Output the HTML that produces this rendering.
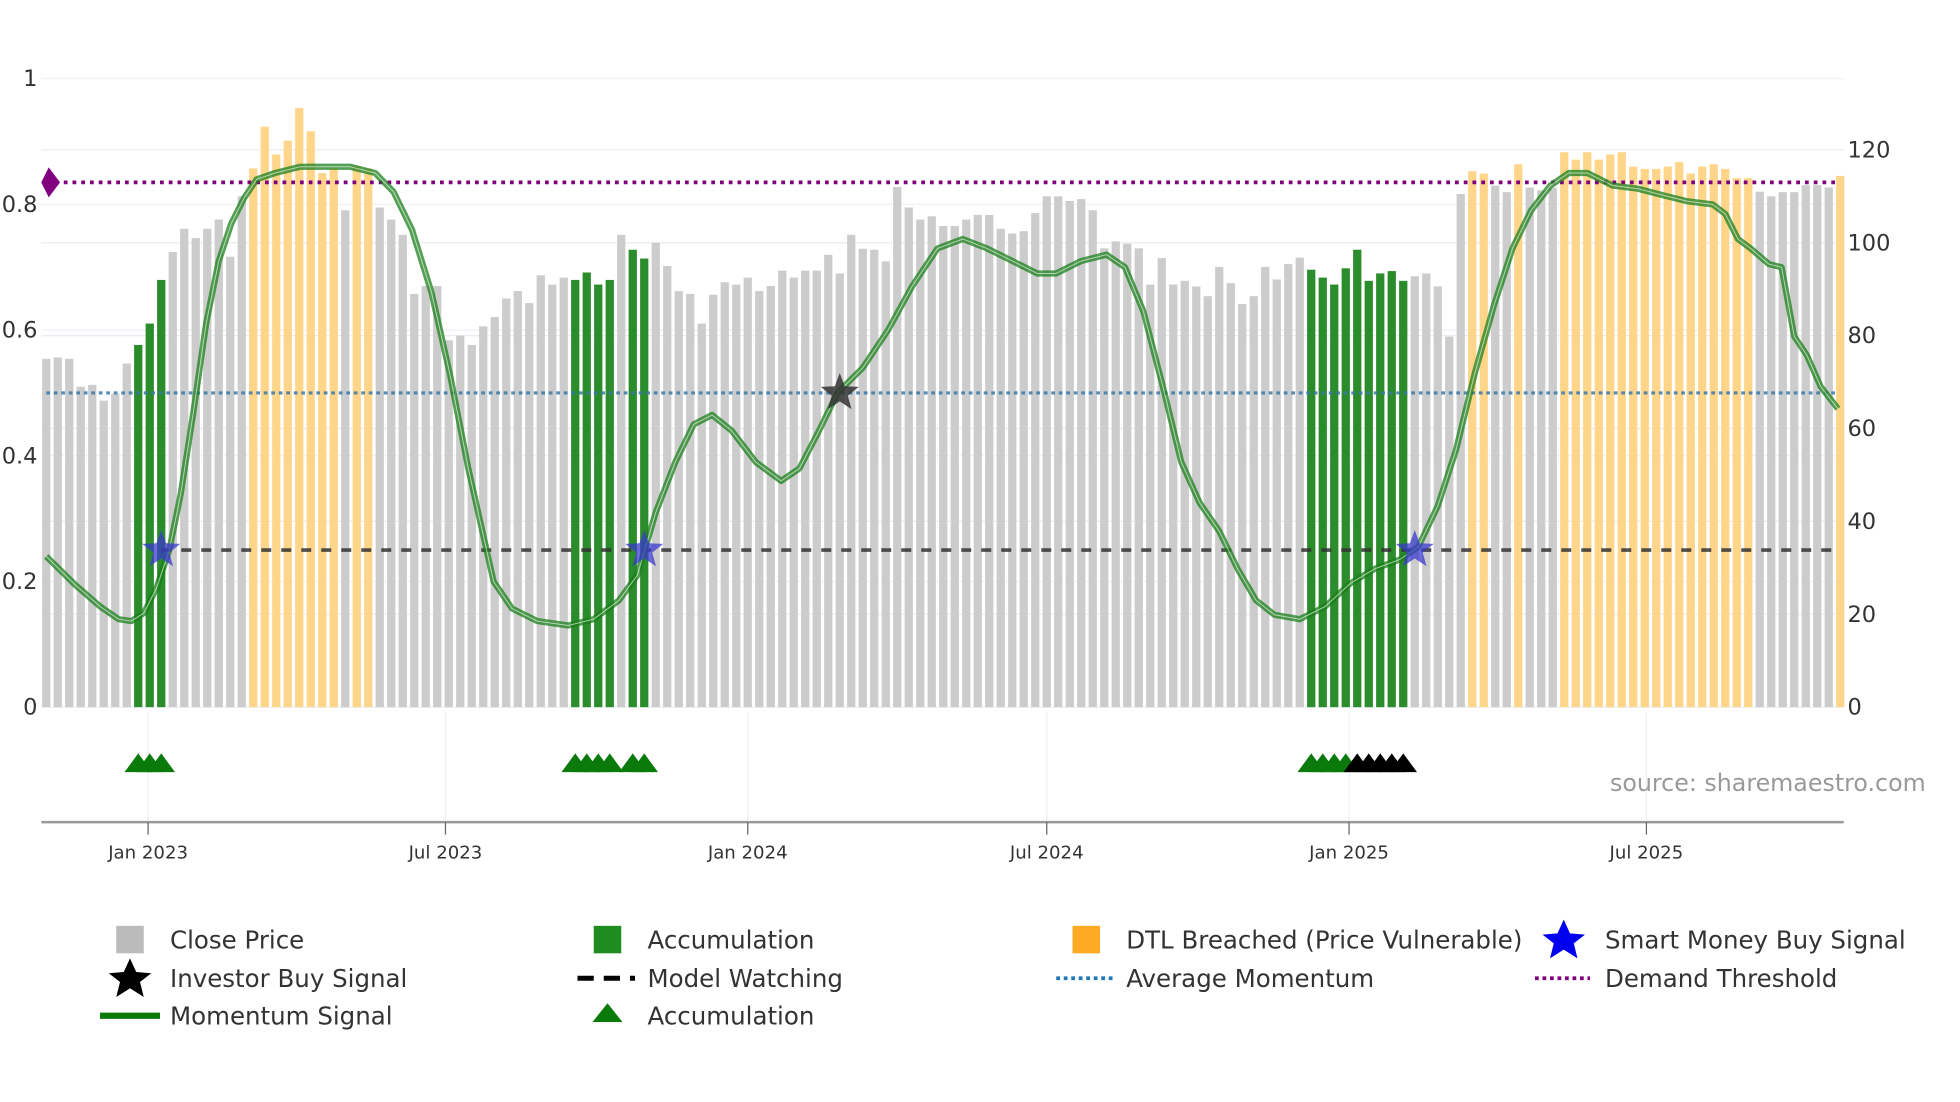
<!DOCTYPE html>
<html><head><meta charset="utf-8"><style>
html,body{margin:0;padding:0;background:#fff;}
svg{display:block;font-family:"DejaVu Sans","Liberation Sans",sans-serif;}
</style></head><body>
<svg id="chart" width="1960" height="1102" viewBox="0 0 1568 882" preserveAspectRatio="none" xmlns="http://www.w3.org/2000/svg">
<g id="grid"></g>
<g id="bars"></g>
<g id="lines"></g>
<g id="mom"></g>
<g id="marks"></g>
<g id="axes"></g>
<text x="1288" y="633" font-size="19" fill="#999">source: sharemaestro.com</text>
<g id="legend" font-size="19.6" fill="#333">
  <g><rect x="93" y="741" width="22" height="22" fill="#bbb"/><text x="136" y="759">Close Price</text></g>
  <g><rect x="475" y="741" width="22" height="22" fill="#1e8c1e"/><text x="518" y="759">Accumulation</text></g>
  <g><rect x="858" y="741" width="22" height="22" fill="#ffaa22"/><text x="901" y="759">DTL Breached (Price Vulnerable)</text></g>
  <g><polygon points="1251,736 1256,747 1268,748 1259,755 1262,767 1251,760 1240,767 1243,755 1234,748 1246,747" fill="#0000ee"/><text x="1284" y="759">Smart Money Buy Signal</text></g>
  <g><polygon points="104,767 109,778 121,779 112,786 115,798 104,791 93,798 96,786 87,779 99,778" fill="#000"/><text x="136" y="790">Investor Buy Signal</text></g>
  <g><line x1="462" y1="783" x2="508" y2="783" stroke="#000" stroke-width="4" stroke-dasharray="13 8"/><text x="518" y="790">Model Watching</text></g>
  <g><line x1="845" y1="783" x2="890" y2="783" stroke="#1f77b4" stroke-width="3" stroke-dasharray="3 3"/><text x="901" y="790">Average Momentum</text></g>
  <g><line x1="1228" y1="783" x2="1272" y2="783" stroke="#800080" stroke-width="3" stroke-dasharray="3 3"/><text x="1284" y="790">Demand Threshold</text></g>
  <g><line x1="80" y1="813" x2="128" y2="813" stroke="#0a7a0a" stroke-width="5"/><text x="136" y="820">Momentum Signal</text></g>
  <g><polygon points="486,803 498,818 474,818" fill="#0a7a0a"/><text x="518" y="820">Accumulation</text></g>
</g>
</svg>
<script>
const prices = [75,75.3,75,69,69.4,66,67.5,74,78,82.6,92,98,103,101,103,105,97,110,116,125,119,122,129,124,115,116,107,116.5,116,107.6,105,101.7,89,90.7,90.7,79,80,78,82,84,88,89.6,87,93,91,92.5,92,93.6,91,92,101.7,98.5,96.6,100,95,89.6,89,82.6,88.8,91.5,91,92.5,89.6,90.7,94,92.5,94,94,97.4,93.4,101.7,98.7,98.5,96,112,107.6,105,105.7,103.6,103.6,105,106,
106,103,102,102.5,106.4,110,110,109,109.4,107,98.8,100.3,99.8,98.8,91,96.7,91,91.8,90.6,88.5,94.8,91.3,86.8,88.5,94.8,92.1,95.4,96.8,94.2,92.5,91,94.5,98.5,91.8,93.4,93.9,91.8,92.8,93.4,90.6,79.8,110.5,115.4,114.9,112.3,110.9,116.9,111.9,111.3,111.9,119.5,117.9,119.5,117.9,119,119.5,116.4,115.9,115.9,116.4,117.4,114.9,116.4,116.9,115.9,113.9,113.9,111,110,110.9,110.9,112.4,112.4,111.9,114.4];
const greenRanges = [[8,10],[46,49],[51,52],[110,118]];
const orangeRanges = [[18,25],[27,28],[124,125],[128,128],[132,148],[156,156]];
const momWeek = [0,2.5,4.7,6.3,7.4,8.5,9.6,10.7,11.7,12.8,13.9,15,16.1,17.2,18.3,19.9,22.1,24.2,26.4,28.6,30.2,31.8,33.5,35.1,36.7,37.8,38.9,40.5,42.7,45.4,47.6,49.8,51.4,53,54.7,56.3,57.9,59.6,61.7,63.9,65.5,67.2,68.8,71,73.2,75.3,77.5,79.7,81.8,84,86.2,87.8,90,92.2,93.8,95.4,97.1,98.7,100.3,102,103.6,105.2,106.8,109,111.2,113.4,115.5,117.7,119.3,121,122.6,124.2,125.9,127.5,129.1,130.8,132.4,134,136.2,138.4,140.5,142.7,144.9,146,147.1,148.2,149.8,150.9,152,153.1,154.3,155.8];
const momVal = [0.24,0.195,0.16,0.14,0.137,0.15,0.19,0.25,0.34,0.47,0.61,0.71,0.77,0.81,0.84,0.85,0.86,0.86,0.86,0.85,0.82,0.76,0.66,0.53,0.38,0.29,0.2,0.157,0.137,0.13,0.14,0.17,0.21,0.31,0.39,0.45,0.465,0.44,0.39,0.36,0.38,0.44,0.5,0.54,0.6,0.67,0.73,0.745,0.73,0.71,0.69,0.69,0.71,0.72,0.7,0.63,0.51,0.39,0.325,0.28,0.22,0.17,0.147,0.14,0.16,0.197,0.22,0.235,0.255,0.32,0.41,0.53,0.64,0.73,0.79,0.83,0.85,0.85,0.83,0.825,0.815,0.805,0.8,0.785,0.745,0.73,0.705,0.7,0.59,0.56,0.51,0.475];
const accumGreenWeeks = [8,9,10,46,47,48,49,51,52,110,111,112,113];
const accumBlackWeeks = [114,115,116,117,118];
const smartMoneyWeeks = [10,52,119];
const investorWeeks = [69];
const signalLevel = 0.25;
const investorLevel = 0.5;
const demandThreshold = 0.835;
const avgMomentum = 0.5;
const watchLevel = 0.25;
const leftTicks = [0,0.2,0.4,0.6,0.8,1];
const leftTickLabels = ["0","0.2","0.4","0.6","0.8","1"];
const rightTicks = [0,20,40,60,80,100,120];
const dateTicks = ["2023-01-01","2023-07-01","2024-01-01","2024-07-01","2025-01-01","2025-07-01"];
const dateTickLabels = ["Jan 2023","Jul 2023","Jan 2024","Jul 2024","Jan 2025","Jul 2025"];
const startDate = "2022-10-31";

const NS="http://www.w3.org/2000/svg";
const X0=37, STEP=9.2, PL=33, PR=1475, BOT=566;
const xw = w => X0 + w*STEP;
const yL = v => BOT - v*503;
const yR = v => BOT - v*3.717;
const xd = d => xw((new Date(d) - new Date(startDate))/86400000/7);
function mk(tag, attrs, parent){const e=document.createElementNS(NS,tag);for(const k in attrs)e.setAttribute(k,attrs[k]);parent.appendChild(e);return e;}
const G=id=>document.getElementById(id);
const inR=(i,rs)=>rs.some(r=>i>=r[0]&&i<=r[1]);

rightTicks.forEach(t=>{const l=mk('line',{x1:PL,x2:PR,y1:yR(t),y2:yR(t),stroke:'#e8ecf2','stroke-width':1},G('grid'));

});
leftTicks.forEach(t=>{const l=mk('line',{x1:PL,x2:PR,y1:yL(t),y2:yL(t),stroke:'#eef1f5','stroke-width':1},G('grid'));

});
dateTicks.forEach(d=>{const l=mk('line',{x1:xd(d),x2:xd(d),y1:570,y2:658,stroke:'#eef0f3','stroke-width':1},G('grid'));

});

prices.forEach((p,i)=>{const fill=inR(i,greenRanges)?'#2a8c2a':(inR(i,orangeRanges)?'#ffd58a':'#cccccc');
const r=mk('rect',{x:xw(i)-3.3,y:yR(p),width:6.6,height:BOT-yR(p),fill:fill},G('bars'));

});

let l;
l=mk('line',{x1:X0,x2:1470,y1:yL(demandThreshold),y2:yL(demandThreshold),stroke:'#800080','stroke-width':3,'stroke-dasharray':'3 4'},G('lines'));


l=mk('polygon',{points:`${X0-4},${yL(demandThreshold)} ${X0+2},${yL(demandThreshold)-12} ${X0+11},${yL(demandThreshold)} ${X0+2},${yL(demandThreshold)+12}`,fill:'#800080'},G('lines'));


l=mk('line',{x1:X0,x2:1470,y1:yL(avgMomentum),y2:yL(avgMomentum),stroke:'#3a78a8','stroke-width':2.5,'stroke-dasharray':'3 3',opacity:0.85},G('lines'));


l=mk('line',{x1:xw(10),x2:1470,y1:yL(watchLevel),y2:yL(watchLevel),stroke:'#333','stroke-width':3,'stroke-dasharray':'8 8',opacity:0.85},G('lines'));



const pts=momWeek.map((w,i)=>`${xw(w)},${yL(momVal[i])}`).join(' ');
l=mk('polyline',{points:pts,fill:'none',stroke:'#1a7f1a','stroke-width':5,opacity:0.75,'stroke-linejoin':'round'},G('mom'));


l=mk('polyline',{points:pts,fill:'none',stroke:'#ffffff','stroke-width':0.8,opacity:0.6},G('mom'));



function star(cx,cy,r,fill,op){const p=[];for(let k=0;k<10;k++){const a=-Math.PI/2+k*Math.PI/5;const rr=k%2?r*0.42:r;p.push((cx+rr*Math.cos(a)).toFixed(1)+','+(cy+rr*Math.sin(a)).toFixed(1));}return mk('polygon',{points:p.join(' '),fill:fill,opacity:op},G('marks'));}
smartMoneyWeeks.forEach(w=>{const s=star(xw(w),yL(signalLevel),16,'#3a3acc',0.75);

});
investorWeeks.forEach(w=>{const s=star(xw(w),yL(investorLevel),16,'#333',0.85);

});
function tri(w,fill){const cx=xw(w);return mk('polygon',{points:`${cx},603 ${cx+11},618 ${cx-11},618`,fill:fill},G('marks'));}
accumGreenWeeks.forEach(w=>{const t=tri(w,'#0a7a0a');

});
accumBlackWeeks.forEach(w=>{const t=tri(w,'#000');

});

leftTicks.forEach((t,i)=>{const e=mk('text',{x:30,y:yL(t)+6,'text-anchor':'end','font-size':18,fill:'#333'},G('axes'));e.textContent=leftTickLabels[i];

});
rightTicks.forEach(t=>{const e=mk('text',{x:1478,y:yR(t)+6,'font-size':18,fill:'#333'},G('axes'));e.textContent=String(t);

});
l=mk('line',{x1:PL,x2:PR,y1:658,y2:658,stroke:'#999','stroke-width':2},G('axes'));


dateTicks.forEach((d,i)=>{const x=xd(d);
const t=mk('line',{x1:x,x2:x,y1:658,y2:668,stroke:'#666','stroke-width':1},G('axes'));


const e=mk('text',{x:x,y:687,'text-anchor':'middle','font-size':14.5,fill:'#333'},G('axes'));e.textContent=dateTickLabels[i];

});
</script>
</body></html>
